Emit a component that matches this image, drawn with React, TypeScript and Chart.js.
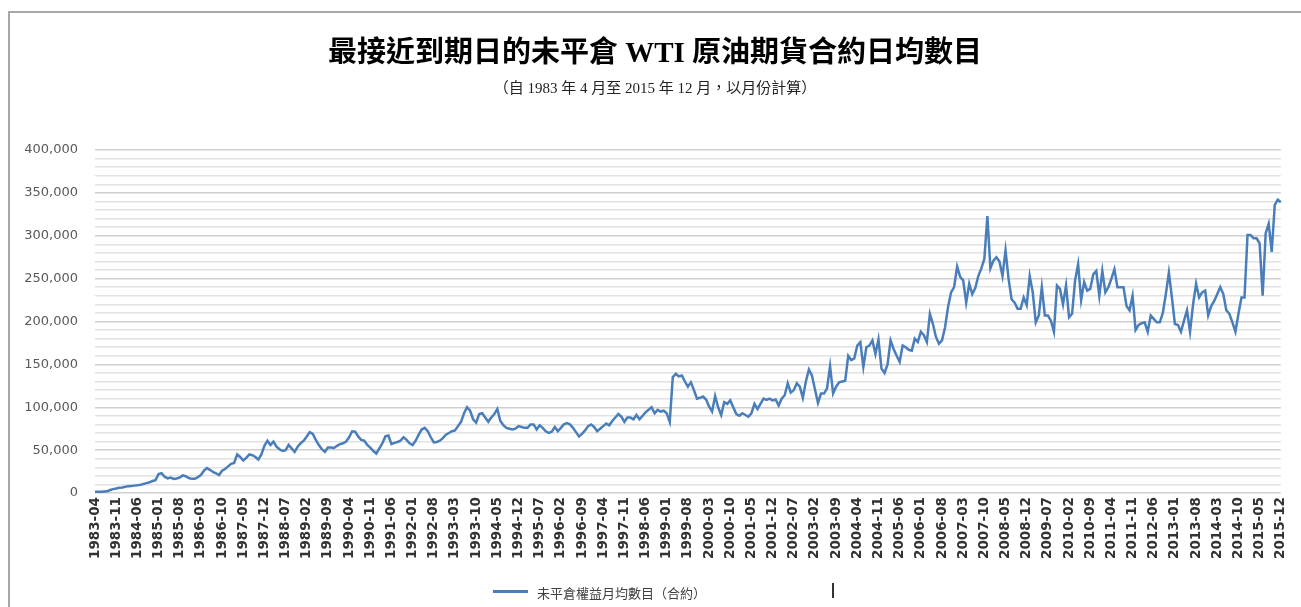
import React, { useEffect, useRef } from "react";
import { Chart, registerables } from "chart.js";

Chart.register(...registerables);

// Monthly average open interest (thousands of contracts), 1983-04 .. 2015-12
const oi1983to1989: number[] = [
  1.5, 1.5, 1.5, 1.8, 2, 3.5, 4.5, 5.2, 6, 6.5,
  7.2, 8, 8.3, 8.6, 8.9, 9.5, 10.5, 11.5, 12.5, 14,
  15, 22, 23, 19, 17, 18, 16.5, 17, 18, 20.5,
  19.5, 17.5, 16.5, 16.5, 18.5, 21, 26, 29, 27, 24.5,
  23, 21, 26, 28, 31, 34, 35, 45, 42, 38,
  41, 45, 44, 42, 39, 45, 55, 61, 56, 60,
  54, 51, 49, 50, 56, 52, 48, 54, 58, 61,
  66, 71, 69, 62, 56, 51, 48, 53, 53, 52.5,
  55,
];
const oi1990to1999: number[] = [
  57, 58, 60, 65, 72, 71.5, 66, 62, 61,
  56, 53, 49, 46, 52, 58, 66, 67, 57, 58.5,
  59.5, 61, 65, 62, 58, 56, 61, 68, 74, 76,
  72, 65, 59, 59.5, 61, 64, 68, 70, 72, 73,
  78, 83, 93, 100, 96, 86, 82, 92, 93, 88,
  83, 88, 92, 98, 84, 79, 76, 75, 74, 75,
  78, 77, 76, 76, 80, 80, 74, 79, 76, 72,
  70, 71.5, 77, 72, 76, 80, 81.5, 80, 76, 71,
  66, 69, 73, 78, 80, 77, 72, 75, 78, 81,
  79, 84, 88, 92, 89, 83, 88, 88, 86, 91,
  86, 90, 94, 97, 100, 93, 97, 95, 96, 93,
  83, 135, 139, 136, 137, 130, 124, 129, 120, 110,
  111,
];
const oi2000to2009: number[] = [
  112.5, 109, 101, 95, 113, 100, 91, 106, 104,
  108, 100, 92, 90, 93, 91, 89, 93, 104, 98,
  104, 110, 108.5, 110, 108, 109, 102, 110, 114, 128,
  117, 120, 128, 124, 111, 130, 144, 137, 121, 105,
  116, 116, 122, 148, 116, 124, 129, 130, 131, 160,
  155, 157, 172, 176, 147, 170, 172, 178, 162, 179,
  145, 140, 150, 178, 168, 160, 153, 172, 170, 167,
  166, 180, 176, 188, 184, 176, 209, 197, 182, 174,
  178, 193, 217, 234, 240, 264, 252, 248, 222, 244,
  232, 239, 253, 262, 273, 323, 262, 271, 275, 270,
  253, 283, 250, 226, 222, 215, 215, 228, 219, 253,
  234, 199, 207, 240, 207, 207, 201, 188, 242, 238,
  220,
];
const oi2010to2015: number[] = [
  242, 205, 209, 248, 267, 225, 246, 236, 238,
  255, 259, 230, 259, 234, 240, 250, 261, 240, 240,
  240, 218, 213, 230, 190, 196, 198, 199, 188, 207,
  203, 199, 199, 210, 232, 257, 228, 197, 196, 188,
  201, 213, 188, 220, 244, 228, 234, 236, 207, 218,
  224, 232, 240, 232, 213, 209, 199, 188, 209, 228,
  228, 301, 301, 297, 297, 291, 230, 303, 314, 281,
  336, 342, 339,
];

const tickLabels: string[] = [
  "1983-04", "1983-11", "1984-06", "1985-01", "1985-08", "1986-03", "1986-10", "1987-05",
  "1987-12", "1988-07", "1989-02", "1989-09", "1990-04", "1990-11", "1991-06", "1992-01",
  "1992-08", "1993-03", "1993-10", "1994-05", "1994-12", "1995-07", "1996-02", "1996-09",
  "1997-04", "1997-11", "1998-06", "1999-01", "1999-08", "2000-03", "2000-10", "2001-05",
  "2001-12", "2002-07", "2003-02", "2003-09", "2004-04", "2004-11", "2005-06", "2006-01",
  "2006-08", "2007-03", "2007-10", "2008-05", "2008-12", "2009-07", "2010-02", "2010-09",
  "2011-04", "2011-11", "2012-06", "2013-01", "2013-08", "2014-03", "2014-10", "2015-05",
  "2015-12",
];

const seriesK = [...oi1983to1989, ...oi1990to1999, ...oi2000to2009, ...oi2010to2015];
const seriesValues = seriesK.map((v) => v * 1000);

const months: string[] = [];
for (let i = 0; i < seriesValues.length; i++) {
  const m = 3 + i;
  const y = 1983 + Math.floor(m / 12);
  const mm = (m % 12) + 1;
  months.push(`${y}-${String(mm).padStart(2, "0")}`);
}

const TITLE = "最接近到期日的未平倉 WTI 原油期貨合約日均數目";
const SUBTITLE = "（自 1983 年 4 月至 2015 年 12 月，以月份計算）";
const LEGEND = "未平倉權益月均數目（合約）";
const LINE_COLOR = "#4a7ebb";

export default function App() {
  const canvasRef = useRef<HTMLCanvasElement | null>(null);

  useEffect(() => {
    if (!canvasRef.current) return;
    const tickSet = new Set(tickLabels);
    const chart = new Chart(canvasRef.current, {
      type: "line",
      data: {
        labels: months,
        datasets: [
          {
            label: LEGEND,
            data: seriesValues,
            borderColor: LINE_COLOR,
            backgroundColor: LINE_COLOR,
            borderWidth: 2.5,
            pointRadius: 0,
            tension: 0,
            fill: false,
          },
        ],
      },
      options: {
        animation: false,
        responsive: false,
        devicePixelRatio: 1,
        layout: { padding: { top: 150, right: 8, left: 0, bottom: 0 } },
        plugins: {
          legend: { display: false },
          title: { display: false },
          tooltip: { enabled: false },
        },
        scales: {
          x: {
            type: "category",
            offset: false,
            grid: { display: false, drawTicks: false },
            border: { display: false },
            ticks: {
              autoSkip: false,
              maxRotation: 90,
              minRotation: 90,
              padding: 4,
              color: "#333333",
              font: { family: "'DejaVu Sans', sans-serif", size: 13.5, weight: "bold" },
              callback: (_v: any, idx: number) => (tickSet.has(months[idx]) ? months[idx] : null),
            },
            afterFit: (scale: any) => {
              scale.height = 114;
            },
          },
          y: {
            min: 0,
            max: 400000,
            border: { display: false },
            grid: {
              drawTicks: false,
              lineWidth: 1.5,
              color: (ctx: any) =>
                ctx.tick && ctx.tick.value % 50000 === 0 ? "#cfcfcf" : "#e2e2e2",
            },
            ticks: {
              autoSkip: false,
              stepSize: 10000,
              padding: 17,
              color: "#595959",
              font: { family: "'DejaVu Sans', sans-serif", size: 13 },
              callback: (v: any) =>
                Number(v) % 50000 === 0 ? Number(v).toLocaleString("en-US") : "",
            },
            afterFit: (scale: any) => {
              scale.width = 95;
            },
          },
        },
      },
    });
    return () => chart.destroy();
  }, []);

  return (
    <div style={{ position: "absolute", left: 0, top: 0, width: 1301, height: 607, overflow: "hidden", background: "#fff" }}>
      <div
        style={{
          position: "absolute",
          left: 8,
          top: 11,
          width: 1300,
          height: 600,
          borderTop: "2px solid #a8a8a8",
          borderLeft: "2px solid #a8a8a8",
        }}
      />
      <canvas ref={canvasRef} width={1301} height={607} style={{ position: "absolute", left: 0, top: 0 }} />
      <div
        style={{
          position: "absolute",
          left: 10,
          width: 1290,
          top: 36,
          textAlign: "center",
          fontFamily: "'Liberation Serif', 'Noto Sans CJK TC', serif",
          fontWeight: "bold",
          fontSize: 29,
          lineHeight: "32px",
          color: "#000",
        }}
      >
        {TITLE}
      </div>
      <div
        style={{
          position: "absolute",
          left: 10,
          width: 1290,
          top: 79,
          textAlign: "center",
          fontFamily: "'Liberation Serif', 'Noto Sans CJK TC', serif",
          fontSize: 15,
          lineHeight: "18px",
          color: "#222",
        }}
      >
        {SUBTITLE}
      </div>
      <div style={{ position: "absolute", left: 493, top: 590, width: 35, height: 3, background: LINE_COLOR }} />
      <div
        style={{
          position: "absolute",
          left: 537,
          top: 584,
          fontFamily: "'Noto Sans CJK TC', sans-serif",
          fontSize: 13,
          lineHeight: "18px",
          color: "#404040",
          whiteSpace: "nowrap",
        }}
      >
        {LEGEND}
      </div>
      <div style={{ position: "absolute", left: 832, top: 583, width: 1.5, height: 15, background: "#333" }} />
    </div>
  );
}
